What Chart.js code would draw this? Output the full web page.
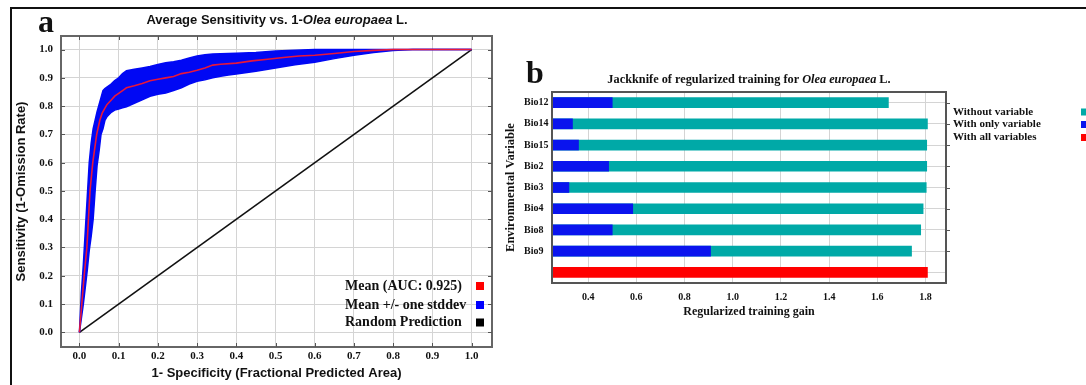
<!DOCTYPE html>
<html><head><meta charset="utf-8">
<script src="https://cdn.jsdelivr.net/npm/chart.js@4.4.1/dist/chart.umd.min.js"></script>
<style>
html,body{margin:0;padding:0;background:#fff;}
#wrap{position:relative;width:1086px;height:385px;overflow:hidden;background:#fff;}
#frame{position:absolute;left:10px;top:7px;width:1076px;height:378px;border-top:2px solid #111;border-left:2px solid #111;box-sizing:border-box;}
canvas{position:absolute;top:0;}
#cA{left:0;} #cB{left:500px;}
</style></head><body>
<div id="wrap"><div id="frame"></div>
<canvas id="cA" width="500" height="385"></canvas>
<canvas id="cB" width="586" height="385"></canvas></div>
<script>
// ---------- Panel a: ROC ----------
const rocTicks = [0,0.1,0.2,0.3,0.4,0.5,0.6,0.7,0.8,0.9,1.0];
const meanX = [0,0.006,0.012,0.019,0.023,0.027,0.034,0.044,0.052,0.058,0.064,0.07,0.08,0.09,0.1,0.11,0.12,0.14,0.16,0.18,0.2,0.22,0.24,0.26,0.28,0.3,0.32,0.34,0.36,0.4,0.44,0.48,0.52,0.56,0.6,0.65,0.7,0.75,0.8,1.0];
const meanY = [0,0.1,0.2,0.3,0.4,0.5,0.6,0.7,0.75,0.775,0.79,0.805,0.82,0.835,0.845,0.855,0.865,0.872,0.88,0.89,0.895,0.9,0.905,0.915,0.92,0.927,0.935,0.945,0.948,0.952,0.96,0.966,0.972,0.977,0.98,0.986,0.993,0.997,1.0,1.0];
const bandX = [0,0.005,0.01,0.015,0.02,0.025,0.03,0.035,0.04,0.045,0.05,0.055,0.06,0.065,0.07,0.08,0.09,0.1,0.11,0.12,0.14,0.16,0.18,0.2,0.22,0.24,0.26,0.28,0.3,0.32,0.34,0.36,0.38,0.4,0.45,0.5,0.55,0.6,0.65,0.7,0.75,0.8,0.85,1.0];
const upperY = [0,0.14,0.24,0.36,0.48,0.60,0.67,0.72,0.75,0.78,0.805,0.83,0.855,0.862,0.867,0.877,0.89,0.90,0.915,0.925,0.93,0.935,0.94,0.947,0.953,0.957,0.962,0.97,0.977,0.982,0.984,0.985,0.986,0.987,0.99,0.995,0.998,1,1,1,1,1,1,1];
const lowerY = [0,0.05,0.10,0.16,0.22,0.29,0.34,0.40,0.50,0.59,0.64,0.70,0.72,0.75,0.762,0.777,0.786,0.79,0.794,0.798,0.81,0.822,0.835,0.842,0.846,0.855,0.865,0.878,0.888,0.893,0.9,0.906,0.91,0.914,0.923,0.935,0.946,0.955,0.968,0.98,0.99,0.997,1,1];
const randomX = [0,1];
const randomY = [0,1];

// ---------- Panel b: Jackknife ----------
const variables = ['Bio12','Bio14','Bio15','Bio2','Bio3','Bio4','Bio8','Bio9',''];
const withoutVariable  = [1.646,1.808,1.805,1.805,1.803,1.790,1.780,1.742,null];
const withOnlyVariable = [0.500,0.335,0.360,0.485,0.320,0.585,0.500,0.908,null];
const withAllVariables = [null,null,null,null,null,null,null,null,1.808];
const gainTicks = [0.4,0.6,0.8,1.0,1.2,1.4,1.6,1.8];
const gainMin = 0.25, gainMax = 1.885;

const SERIF = '"Liberation Serif", "Times New Roman", serif';
const SANS = '"Liberation Sans", Arial, sans-serif';
const pts = (xs, ys) => xs.map((x, i) => ({x: x, y: ys[i]}));

function drawRich(ctx, pieces, x, y, align) {
  let total = 0;
  pieces.forEach(p => { ctx.font = p.f; total += ctx.measureText(p.t).width; });
  let cx = align === 'center' ? x - total / 2 : x;
  ctx.textAlign = 'left';
  ctx.textBaseline = 'middle';
  pieces.forEach(p => { ctx.font = p.f; ctx.fillText(p.t, cx, y); cx += ctx.measureText(p.t).width; });
}

const panelA = {
  id: 'panelA',
  afterDatasetsDraw(chart) {
    const {ctx, chartArea: a, scales} = chart;
    ctx.save();
    ctx.strokeStyle = '#666'; ctx.lineWidth = 2;
    ctx.strokeRect(a.left, a.top, a.right - a.left, a.bottom - a.top);
    ctx.lineWidth = 1; ctx.strokeStyle = '#555';
    rocTicks.forEach(v => {
      const px = Math.round(scales.x.getPixelForValue(v)) + 0.5;
      const py = Math.round(scales.y.getPixelForValue(v)) + 0.5;
      ctx.beginPath();
      ctx.moveTo(px, a.top); ctx.lineTo(px, a.top + 4);
      ctx.moveTo(px, a.bottom); ctx.lineTo(px, a.bottom - 4);
      ctx.moveTo(a.left, py); ctx.lineTo(a.left + 4, py);
      ctx.moveTo(a.right, py); ctx.lineTo(a.right - 4, py);
      ctx.stroke();
    });
    ctx.restore();
  },
  afterDraw(chart) {
    const ctx = chart.ctx;
    ctx.save();
    ctx.fillStyle = '#111';
    ctx.font = 'bold 32px ' + SERIF;
    ctx.textAlign = 'left'; ctx.textBaseline = 'alphabetic';
    ctx.fillText('a', 38, 32);
    const f = 'bold 13px ' + SANS, fi = 'italic bold 13px ' + SANS;
    drawRich(ctx, [{t: 'Average Sensitivity vs. 1-', f: f}, {t: 'Olea europaea', f: fi}, {t: ' L.', f: f}], 277, 20, 'center');
    const items = [['Mean (AUC: 0.925)', '#ff0000'], ['Mean +/- one stddev', '#0000ff'], ['Random Prediction', '#000000']];
    const ys = [286, 305, 322.5];
    items.forEach((it, i) => {
      ctx.font = 'bold 14px ' + SERIF; ctx.fillStyle = '#111';
      ctx.textAlign = 'left'; ctx.textBaseline = 'middle';
      ctx.fillText(it[0], 345, ys[i]);
      ctx.fillStyle = it[1];
      ctx.fillRect(476, ys[i] - 4, 8, 8);
    });
    ctx.restore();
  }
};

new Chart(document.getElementById('cA'), {
  type: 'line',
  data: {
    datasets: [
      {label: 'Mean', data: pts(meanX, meanY), borderColor: '#e8173a', borderWidth: 1.6, pointRadius: 0, fill: false, tension: 0},
      {label: 'Upper', data: pts(bandX, upperY), borderColor: '#0008f4', backgroundColor: '#0008f4', borderWidth: 1.5, pointRadius: 0, fill: '+1', tension: 0},
      {label: 'Lower', data: pts(bandX, lowerY), borderColor: '#0008f4', borderWidth: 1.5, pointRadius: 0, fill: false, tension: 0},
      {label: 'Random Prediction', data: pts(randomX, randomY), borderColor: '#111', borderWidth: 1.6, pointRadius: 0, fill: false}
    ]
  },
  options: {
    responsive: false, animation: false, devicePixelRatio: 1,
    layout: {padding: {top: 36, right: 8, left: 0, bottom: 0}},
    plugins: {legend: {display: false}, title: {display: false}, tooltip: {enabled: false}},
    scales: {
      x: {
        type: 'linear', min: -0.047, max: 1.052,
        afterBuildTicks: s => { s.ticks = rocTicks.map(v => ({value: v})); },
        afterFit: s => { s.height = 38; },
        grid: {color: '#d4d4d4', drawTicks: false},
        border: {display: false},
        ticks: {padding: 3, color: '#111', autoSkip: false, maxRotation: 0, font: {family: SERIF, weight: 'bold', size: 11}, callback: v => Number(v).toFixed(1)},
        title: {display: true, text: '1- Specificity (Fractional Predicted Area)', color: '#111', font: {family: SANS, weight: 'bold', size: 13}, padding: {top: 4, bottom: 4}}
      },
      y: {
        type: 'linear', min: -0.052, max: 1.048,
        afterBuildTicks: s => { s.ticks = rocTicks.map(v => ({value: v})); },
        afterFit: s => { s.width = 61; },
        grid: {color: '#d4d4d4', drawTicks: false},
        border: {display: false},
        ticks: {padding: 8, color: '#111', autoSkip: false, font: {family: SERIF, weight: 'bold', size: 11}, callback: v => Number(v).toFixed(1)},
        title: {display: true, text: 'Sensitivity (1-Omission Rate)', color: '#111', font: {family: SANS, weight: 'bold', size: 13}, padding: {top: 14, bottom: 14}}
      }
    }
  },
  plugins: [panelA]
});

const panelB = {
  id: 'panelB',
  afterDatasetsDraw(chart) {
    const {ctx, chartArea: a, scales} = chart;
    ctx.save();
    ctx.strokeStyle = '#555'; ctx.lineWidth = 2;
    ctx.strokeRect(a.left, a.top, a.right - a.left, a.bottom - a.top);
    ctx.lineWidth = 1;
    variables.forEach((v, i) => {
      if (!v) return;
      const py = Math.round(scales.y.getPixelForTick(i)) + 0.5;
      ctx.beginPath(); ctx.moveTo(a.right, py); ctx.lineTo(a.right + 4, py); ctx.stroke();
    });
    ctx.restore();
  },
  afterDraw(chart) {
    const {ctx, chartArea: a} = chart;
    ctx.save();
    ctx.fillStyle = '#111';
    ctx.font = 'bold 32px ' + SERIF;
    ctx.textAlign = 'left'; ctx.textBaseline = 'alphabetic';
    ctx.fillText('b', 26, 83);
    const f = 'bold 12.3px ' + SERIF, fi = 'italic bold 12.3px ' + SERIF;
    drawRich(ctx, [{t: 'Jackknife of regularized training for ', f: f}, {t: 'Olea europaea', f: fi}, {t: ' L.', f: f}], 249, 80, 'center');
    ctx.save();
    ctx.translate(11, (a.top + a.bottom) / 2);
    ctx.rotate(-Math.PI / 2);
    ctx.font = 'bold 12.5px ' + SERIF;
    ctx.textAlign = 'center'; ctx.textBaseline = 'middle';
    ctx.fillText('Environmental Variable', 0, 0);
    ctx.restore();
    const items = [['Without variable', '#00a9a7'], ['With only variable', '#0a14ee'], ['With all variables', '#ff0000']];
    const ys = [112, 124.5, 137.5];
    items.forEach((it, i) => {
      ctx.font = 'bold 11px ' + SERIF; ctx.fillStyle = '#111';
      ctx.textAlign = 'left'; ctx.textBaseline = 'middle';
      ctx.fillText(it[0], 453, ys[i]);
      ctx.fillStyle = it[1];
      ctx.fillRect(581, ys[i] - 3.5, 7, 7);
    });
    ctx.restore();
  }
};

new Chart(document.getElementById('cB'), {
  type: 'bar',
  data: {
    labels: variables,
    datasets: [
      {label: 'With only variable', data: withOnlyVariable, backgroundColor: '#0a14ee', order: 1},
      {label: 'Without variable', data: withoutVariable, backgroundColor: '#00a9a7', order: 2},
      {label: 'With all variables', data: withAllVariables, backgroundColor: '#ff0000', order: 2}
    ]
  },
  options: {
    indexAxis: 'y',
    responsive: false, animation: false, devicePixelRatio: 1,
    datasets: {bar: {grouped: false, barThickness: 10, base: gainMin, borderWidth: 0}},
    layout: {padding: {top: 92, right: 140, bottom: 62, left: 24}},
    plugins: {legend: {display: false}, title: {display: false}, tooltip: {enabled: false}},
    scales: {
      x: {
        type: 'linear', min: gainMin, max: gainMax,
        afterBuildTicks: s => { s.ticks = gainTicks.map(v => ({value: v})); },
        afterFit: s => { s.height = 40; },
        grid: {color: '#d4d4d4', drawTicks: false},
        border: {display: false},
        ticks: {padding: 8, color: '#111', autoSkip: false, maxRotation: 0, font: {family: SERIF, weight: 'bold', size: 10}, callback: v => Number(v).toFixed(1)},
        title: {display: true, text: 'Regularized training gain', color: '#111', font: {family: SERIF, weight: 'bold', size: 12}, padding: {top: 4, bottom: 4}}
      },
      y: {
        type: 'category',
        afterFit: s => { s.width = 28; },
        grid: {color: '#d4d4d4', drawTicks: false, offset: false},
        border: {display: false},
        ticks: {crossAlign: 'far', padding: 4, color: '#111', autoSkip: false, font: {family: SERIF, weight: 'bold', size: 10}},
        title: {display: false}
      }
    }
  },
  plugins: [panelB]
});
</script>
</body></html>
